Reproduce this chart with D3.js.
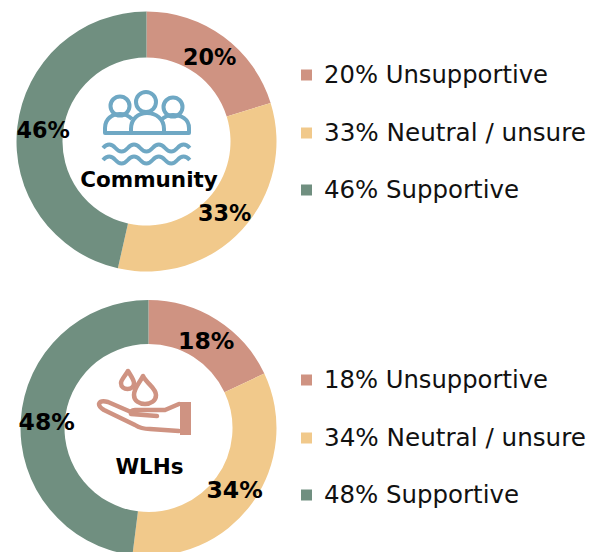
<!DOCTYPE html>
<html>
<head>
<meta charset="utf-8">
<script src="https://cdn.jsdelivr.net/npm/d3@7"></script>
<style>
  html, body { margin: 0; padding: 0; background: #fff; }
  text { font-family: "DejaVu Sans", sans-serif; }
</style>
</head>
<body>
<div id="chart"></div>
<script>
(function() {
  const width = 602;
  const height = 552;

  // ===== Dados =====
  const categories = ["Unsupportive", "Neutral / unsure", "Supportive"];
  const colors = ["#cf9382", "#f1c98b", "#708f80"];
  const communityValues = [20, 33, 46];
  const wlhValues = [18, 34, 48];

  const svg = d3.select("#chart").append("svg")
    .attr("width", width)
    .attr("height", height)
    .style("display", "block");

  const color = d3.scaleOrdinal(categories, colors);

  const pie = d3.pie().sort(null);

  function donut(values, cfg) {
    const g = svg.append("g").attr("transform", `translate(${cfg.cx},${cfg.cy})`);
    const arc = d3.arc().innerRadius(cfg.inner).outerRadius(cfg.outer);

    g.selectAll("path.slice")
      .data(pie(values))
      .join("path")
      .attr("class", "slice")
      .attr("d", arc)
      .attr("fill", (d, i) => color(categories[i]));

    // rótulos dentro do anel
    const labelArc = d3.arc().innerRadius(cfg.labelR).outerRadius(cfg.labelR);
    g.selectAll("text.pct")
      .data(pie(values))
      .join("text")
      .attr("class", "pct")
      .attr("transform", d => `translate(${labelArc.centroid(d)})`)
      .attr("text-anchor", "middle")
      .attr("dx", cfg.pctDx)
      .attr("dy", "0.36em")
      .attr("font-size", cfg.pctSize)
      .attr("font-weight", "bold")
      .attr("fill", "#000")
      .text(d => d.value + "%");

    g.append("text")
      .attr("x", cfg.nameX)
      .attr("y", cfg.nameY)
      .attr("text-anchor", "middle")
      .attr("font-size", 21.5)
      .attr("font-weight", "bold")
      .attr("fill", "#000")
      .text(cfg.name);
  }

  // largura das legendas medida na imagem (fonte original mais estreita)
  const legendWidths = [224, 262, 195];

  function legend(values, rows) {
    const g = svg.append("g");
    categories.forEach((c, i) => {
      g.append("rect")
        .attr("x", 301)
        .attr("y", rows[i] - 5.5)
        .attr("width", 11)
        .attr("height", 11)
        .attr("fill", color(c));
      g.append("text")
        .attr("x", 324)
        .attr("y", rows[i] - 0.5)
        .attr("dy", "0.36em")
        .attr("font-size", 24.5)
        .attr("fill", "#111")
        .attr("textLength", legendWidths[i])
        .attr("lengthAdjust", "spacingAndGlyphs")
        .text(`${values[i]}% ${c}`);
    });
  }

  donut(communityValues, { cx: 146.5, cy: 141.5, outer: 130, inner: 84, labelR: 105, pctSize: 22.3, pctDx: 1, name: "Community", nameX: 2.5, nameY: 45 });
  donut(wlhValues, { cx: 148.5, cy: 428, outer: 128, inner: 84, labelR: 104, pctSize: 23.5, pctDx: 2, name: "WLHs", nameX: 1, nameY: 46 });

  legend(communityValues, [75, 133, 190]);
  legend(wlhValues, [380, 438, 495]);

  // ===== Ícones =====
  const blue = "#6fa8c4";
  const people = svg.append("g")
    .attr("fill", "none")
    .attr("stroke", blue)
    .attr("stroke-width", 4)
    .attr("stroke-linejoin", "round");
  people.append("circle").attr("cx", 120).attr("cy", 106).attr("r", 9.5);
  people.append("circle").attr("cx", 146).attr("cy", 102).attr("r", 10);
  people.append("circle").attr("cx", 173).attr("cy", 107).attr("r", 9.5);
  people.append("path").attr("d", "M131,133 L105,133 L105,128 C105,119 112,114 120,114 C125,114 129,116 132,119");
  people.append("path").attr("d", "M163,133 L189,133 L189,128 C189,119 181,115 173,115 C168,115 164,117 161,120");
  people.append("path").attr("d", "M131,133 L131,129 C131,119 138,113 147,113 C156,113 164,119 164,129 L164,133 Z");
  ["M103,148 q6.2,-7 12.4,0 t12.4,0 t12.4,0 t12.4,0 t12.4,0 t12.4,0 t12.4,0",
   "M103,160 q6.2,-7 12.4,0 t12.4,0 t12.4,0 t12.4,0 t12.4,0 t12.4,0 t12.4,0"].forEach(d => {
    people.append("path").attr("d", d);
  });

  const rose = "#cf9382";
  const hand = svg.append("g")
    .attr("fill", "none")
    .attr("stroke", rose)
    .attr("stroke-width", 4.5)
    .attr("stroke-linejoin", "round")
    .attr("stroke-linecap", "round");
  hand.append("path").attr("d", "M128,371 C125,376 121,380 121,383 C121,391 134,391 134,383 C134,380 131,376 128,371 Z");
  hand.append("path").attr("d", "M143,376 C139,384 134,388 134,395 C134,407 156,407 156,395 C156,388 147,384 143,376 Z");
  hand.append("path").attr("d", "M179,404 L165,410 L135,410 Q130,410 131,414 L157,416");
  hand.append("path").attr("d", "M131,412 L108,402 Q100,400 99,404 Q99,407 104,410 L135,425 Q141,429 150,429 L179,431");
  svg.append("rect").attr("x", 180).attr("y", 402).attr("width", 11).attr("height", 33).attr("fill", rose);
})();
</script>
</body>
</html>
